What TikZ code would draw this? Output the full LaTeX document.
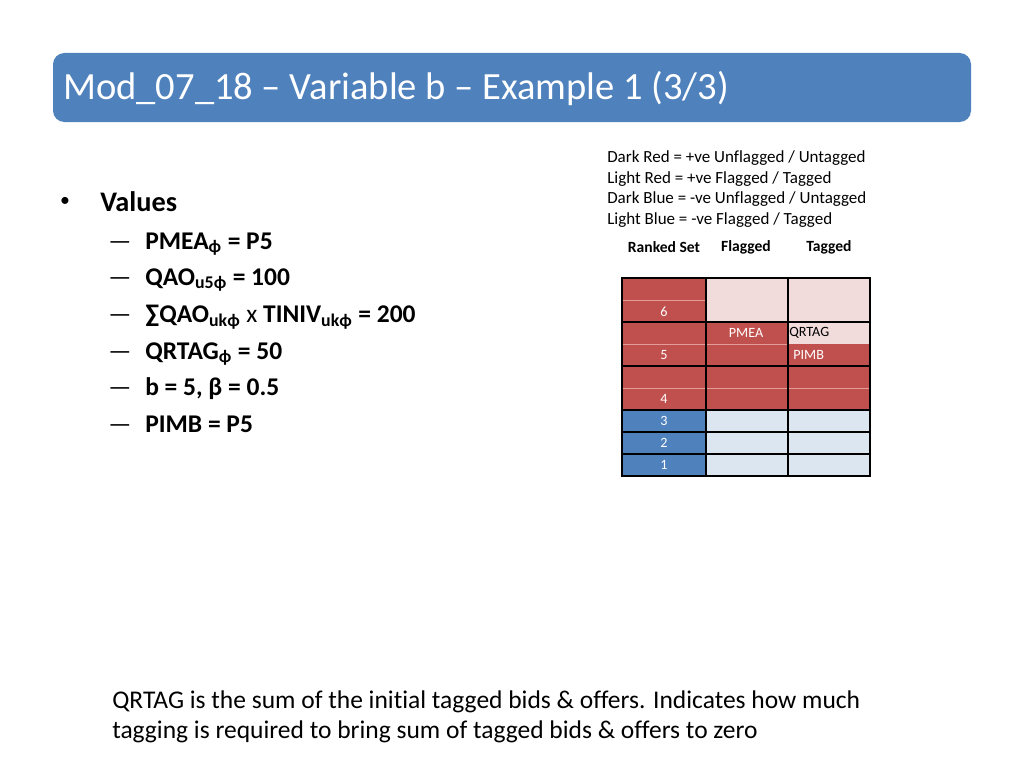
\documentclass[tikz,border=0pt]{standalone}
\usepackage{fontspec}
\setmainfont{Carlito}[Ligatures={TeX,NoCommon}]
\definecolor{titleblue}{HTML}{4F81BD}
\definecolor{darkred}{HTML}{C0504D}
\definecolor{lightred}{HTML}{F2DCDB}
\definecolor{darkblue}{HTML}{4F81BD}
\definecolor{lightblue}{HTML}{DCE6F1}
\definecolor{pinkline}{HTML}{E39C9A}
\begin{document}
\begin{tikzpicture}[x=0.024805cm, y=-0.024805cm,
    legend/.style={anchor=base west, inner sep=0pt, font=\fontsize{12}{14}\selectfont},
    head/.style={inner sep=0pt, font=\fontsize{11}{13}\selectfont\bfseries},
    item/.style={anchor=base west, inner sep=0pt, font=\fontsize{18}{22}\selectfont\bfseries},
    itemdash/.style={anchor=base, inner sep=0pt, font=\fontsize{18}{22}\selectfont},
    cell/.style={inner sep=0pt, font=\fontsize{10}{12}\selectfont},
    num/.style={cell, text=white}]
    \useasboundingbox (0,0) rectangle (1024,768);

    % Title bar
    \fill[titleblue, rounded corners=8] (53,53) rectangle (971,122);
    \node[anchor=base west, inner sep=0pt, text=white, font=\fontsize{27.2}{32}\selectfont]
        (title) at (63,100) {Mod\_07\_18 – Variable b – Example 1 (3/3)};

    % Values list
    \node[inner sep=0pt, font=\fontsize{14}{16}\selectfont] (bullet) at (65,202) {•};
    \node[anchor=base west, inner sep=0pt, font=\fontsize{20}{24}\selectfont\bfseries]
        (values) at (100,211) {Values};
    \node[itemdash] (d1) at (120,249) {—};
    \node[item] (pmea1) at (145,249) {PMEA\textsubscript{ϕ} = P5};
    \node[itemdash] (d2) at (120,285) {—};
    \node[item] (qao) at (145,285) {QAO\textsubscript{u5ϕ} = 100};
    \node[itemdash] (d3) at (120,322) {—};
    \node[item] (sum) at (145,322) {∑QAO\textsubscript{ukϕ} \mdseries x \bfseries TINIV\textsubscript{ukϕ} = 200};
    \node[itemdash] (d4) at (120,359) {—};
    \node[item] (qrtag1) at (145,359) {QRTAG\textsubscript{ϕ} = 50};
    \node[itemdash] (d5) at (120,395) {—};
    \node[item] (beta) at (145,395) {b = 5, β = 0.5};
    \node[itemdash] (d6) at (120,432) {—};
    \node[item] (pimb1) at (145,432) {PIMB = P5};

    % Legend
    \node[legend] (l1) at (607,162) {Dark Red = +ve Unflagged / Untagged};
    \node[legend] (l2) at (607,183) {Light Red = +ve Flagged / Tagged};
    \node[legend] (l3) at (607,203) {Dark Blue = -ve Unflagged / Untagged};
    \node[legend] (l4) at (607,224) {Light Blue = -ve Flagged / Tagged};

    % Column heads
    \node[head] (ranked) at (664,247) {Ranked Set};
    \node[head] (flagged) at (746,247) {Flagged};
    \node[head] (tagged) at (829,247) {Tagged};

    % Table fills
    \fill[darkred] (622,278) rectangle (706,410);
    \fill[darkblue] (622,410) rectangle (706,476);
    \fill[lightred] (706,278) rectangle (788,322);
    \fill[darkred] (706,322) rectangle (788,410);
    \fill[lightblue] (706,410) rectangle (870,476);
    \fill[lightred] (788,278) rectangle (870,344);
    \fill[darkred] (788,344) rectangle (870,410);

    % Sub rows
    \draw[pinkline, line width=0.4pt] (622,300) -- (706,300);
    \draw[pinkline, line width=0.4pt] (622,344) -- (788,344);
    \draw[pinkline, line width=0.4pt] (622,388) -- (870,388);

    % Grid
    \draw[line width=1pt] (622,278) rectangle (870,476);
    \draw[line width=1pt] (706,278) -- (706,476);
    \draw[line width=1pt] (788,278) -- (788,476);
    \draw[line width=1pt] (622,322) -- (870,322);
    \draw[line width=1pt] (622,366) -- (870,366);
    \draw[line width=1pt] (622,410) -- (870,410);
    \draw[line width=1pt] (622,432) -- (870,432);
    \draw[line width=1pt] (622,454) -- (870,454);

    % Cell texts
    \node[num] (r6) at (664,312) {6};
    \node[num] (r5) at (664,355) {5};
    \node[num] (r4) at (664,399) {4};
    \node[num] (r3) at (664,421) {3};
    \node[num] (r2) at (664,443) {2};
    \node[num] (r1) at (664,465) {1};
    \node[num] (pmea) at (746,333) {PMEA};
    \node[cell, anchor=west] (qrtag) at (789,333) {QRTAG};
    \node[num, anchor=west] (pimb) at (793,355) {PIMB};

    % Note
    \node[anchor=base west, inner sep=0pt, font=\fontsize{18}{21}\selectfont] (note1) at (112,708)
        {QRTAG is the sum of the initial tagged bids \& offers. Indicates how much};
    \node[anchor=base west, inner sep=0pt, font=\fontsize{18}{21}\selectfont] (note2) at (112,738)
        {tagging is required to bring sum of tagged bids \& offers to zero};
\end{tikzpicture}
\end{document}
